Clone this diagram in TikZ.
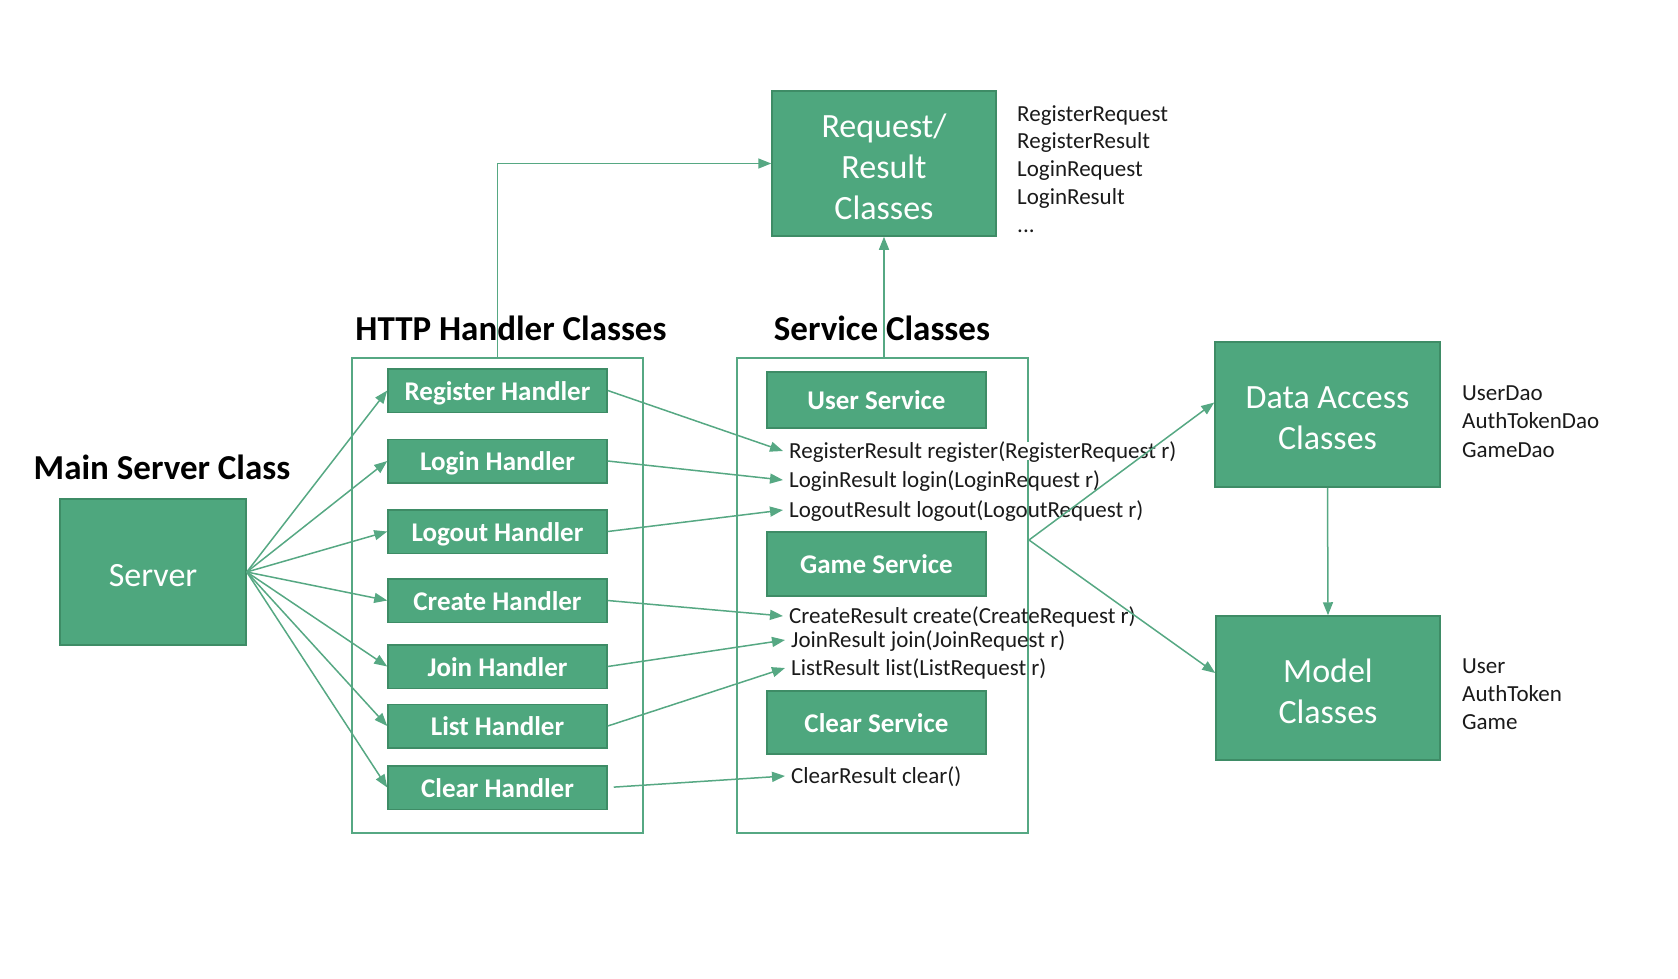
\documentclass[tikz,border=0pt]{standalone}
\usepackage{fontspec}
\setmainfont{Carlito}
\usetikzlibrary{arrows.meta,calc}
\definecolor{boxgreen}{RGB}{78,167,126}
\definecolor{boxedge}{RGB}{62,140,102}
\definecolor{linegreen}{RGB}{86,168,131}
\definecolor{txt}{RGB}{26,26,26}
\newcommand\mytopstrut{\rule{0pt}{30pt}}
\begin{document}
\begin{tikzpicture}[x=1pt,y=-1pt,
 bigbox/.style={draw=boxedge,line width=1.5pt,fill=boxgreen,text=white,inner sep=0pt,font=\fontsize{34}{41}\selectfont,align=center},
 smallbox/.style={draw=boxedge,line width=1.5pt,fill=boxgreen,text=white,inner sep=0pt,minimum width=219pt,font=\bfseries\fontsize{27}{32}\selectfont,text height=19pt,text depth=0pt},
 container/.style={draw=linegreen,line width=2pt,inner sep=0pt,minimum width=291pt,minimum height=475pt},
 titletext/.style={font=\bfseries\fontsize{35}{42}\selectfont,text=black,anchor=base,inner sep=0pt},
 method/.style={font=\fontsize{23}{28}\selectfont,text=txt,anchor=west,inner xsep=6pt,inner ysep=0pt,text height=16pt,text depth=2pt},
 listtext/.style={font=\fontsize{23}{28}\selectfont,text=txt,anchor=base west,inner sep=0pt},
 conn/.style={draw=linegreen,line width=1.5pt,-{Triangle[length=13pt,width=10pt]}},
]
\useasboundingbox (0,0) rectangle (1678,978);

% containers
\node[container] (httpbox) at (497.5,595.5) {};
\node[container] (servbox) at (882.5,595.5) {};

% titles
\node[titletext] (ttlmain) at (162,479) {Main Server Class};
\node[titletext] (ttlhttp) at (511,340) {HTTP Handler Classes};
\node[titletext] (ttlserv) at (882,340) {Service Classes};

% big boxes
\node[bigbox,minimum width=186pt,minimum height=146pt,text height=28pt,text depth=0pt] (server) at (153,572) {Server};
\node[bigbox,minimum width=224pt,minimum height=145pt] (reqres) at (884,163.5) {\mytopstrut Request/\\Result\\Classes};
\node[bigbox,minimum width=225pt,minimum height=145pt] (dao) at (1327.5,414.5) {\mytopstrut Data Access\\Classes};
\node[bigbox,minimum width=224pt,minimum height=144pt] (model) at (1328,688) {\mytopstrut Model\\Classes};

% handlers
\node[smallbox,minimum height=43.5pt] (hreg) at (497.5,390.5) {Register Handler};
\node[smallbox,minimum height=43.5pt] (hlogin) at (497.5,461) {Login Handler};
\node[smallbox,minimum height=43.5pt] (hlogout) at (497.5,531.5) {Logout Handler};
\node[smallbox,minimum height=43.5pt] (hcreate) at (497.5,600.5) {Create Handler};
\node[smallbox,minimum height=43.5pt] (hjoin) at (497.5,666.5) {Join Handler};
\node[smallbox,minimum height=43.5pt] (hlist) at (497.5,726) {List Handler};
\node[smallbox,minimum height=43.5pt] (hclear) at (497.5,787.5) {Clear Handler};

% services
\node[smallbox,minimum height=56pt] (suser) at (876.5,400) {User Service};
\node[smallbox,minimum height=64pt] (sgame) at (876.5,564) {Game Service};
\node[smallbox,minimum height=63pt] (sclear) at (876.5,722.5) {Clear Service};

% methods
\node[method,fill=white] (mreg) at (783,451) {RegisterResult register(RegisterRequest r)};
\node[method] (mlogin) at (783,480) {LoginResult login(LoginRequest r)};
\node[method] (mlogout) at (783,510) {LogoutResult logout(LogoutRequest r)};
\node[method] (mcreate) at (783,616) {CreateResult create(CreateRequest r)};
\node[method] (mjoin) at (785,640) {JoinResult join(JoinRequest r)};
\node[method] (mlist) at (785,668) {ListResult list(ListRequest r)};
\node[method] (mclear) at (785,776) {ClearResult clear()};

% lists
\node[listtext] (l1) at (1017,121) {RegisterRequest};
\node[listtext] (l2) at (1017,148) {RegisterResult};
\node[listtext] (l3) at (1017,176) {LoginRequest};
\node[listtext] (l4) at (1017,204) {LoginResult};
\node[listtext] (l5) at (1017,232) {...};
\node[listtext] (d1) at (1462,400) {UserDao};
\node[listtext] (d2) at (1462,428) {AuthTokenDao};
\node[listtext] (d3) at (1462,457) {GameDao};
\node[listtext] (m1) at (1462,673) {User};
\node[listtext] (m2) at (1462,701) {AuthToken};
\node[listtext] (m3) at (1462,729) {Game};

% connectors: server to handlers
\foreach \h in {hreg,hlogin,hlogout,hcreate,hjoin,hlist,hclear}
  \draw[conn] (server.east) -- (\h.west);

% handlers to methods
\draw[conn] (hreg.east) -- (mreg.west);
\draw[conn] (hlogin.east) -- (mlogin.west);
\draw[conn] (hlogout.east) -- (mlogout.west);
\draw[conn] (hcreate.east) -- (mcreate.west);
\draw[conn] (hjoin.east) -- (mjoin.west);
\draw[conn] (hlist.east) -- (mlist.west);
\draw[conn,shorten <=6pt] (hclear.east) -- (mclear.west);

% to request/result
\draw[conn] (httpbox.north) |- (reqres.west);
\draw[conn] (reqres.south |- servbox.north) -- (reqres.south);

% services to data access / model
\coordinate (fork) at ([yshift=55.5pt]servbox.east);
\draw[conn] (fork) -- ([yshift=12pt]dao.west);
\draw[conn] (fork) -- ([yshift=15pt]model.west);
\draw[conn] (dao.south) -- (model.north);
\end{tikzpicture}
\end{document}
